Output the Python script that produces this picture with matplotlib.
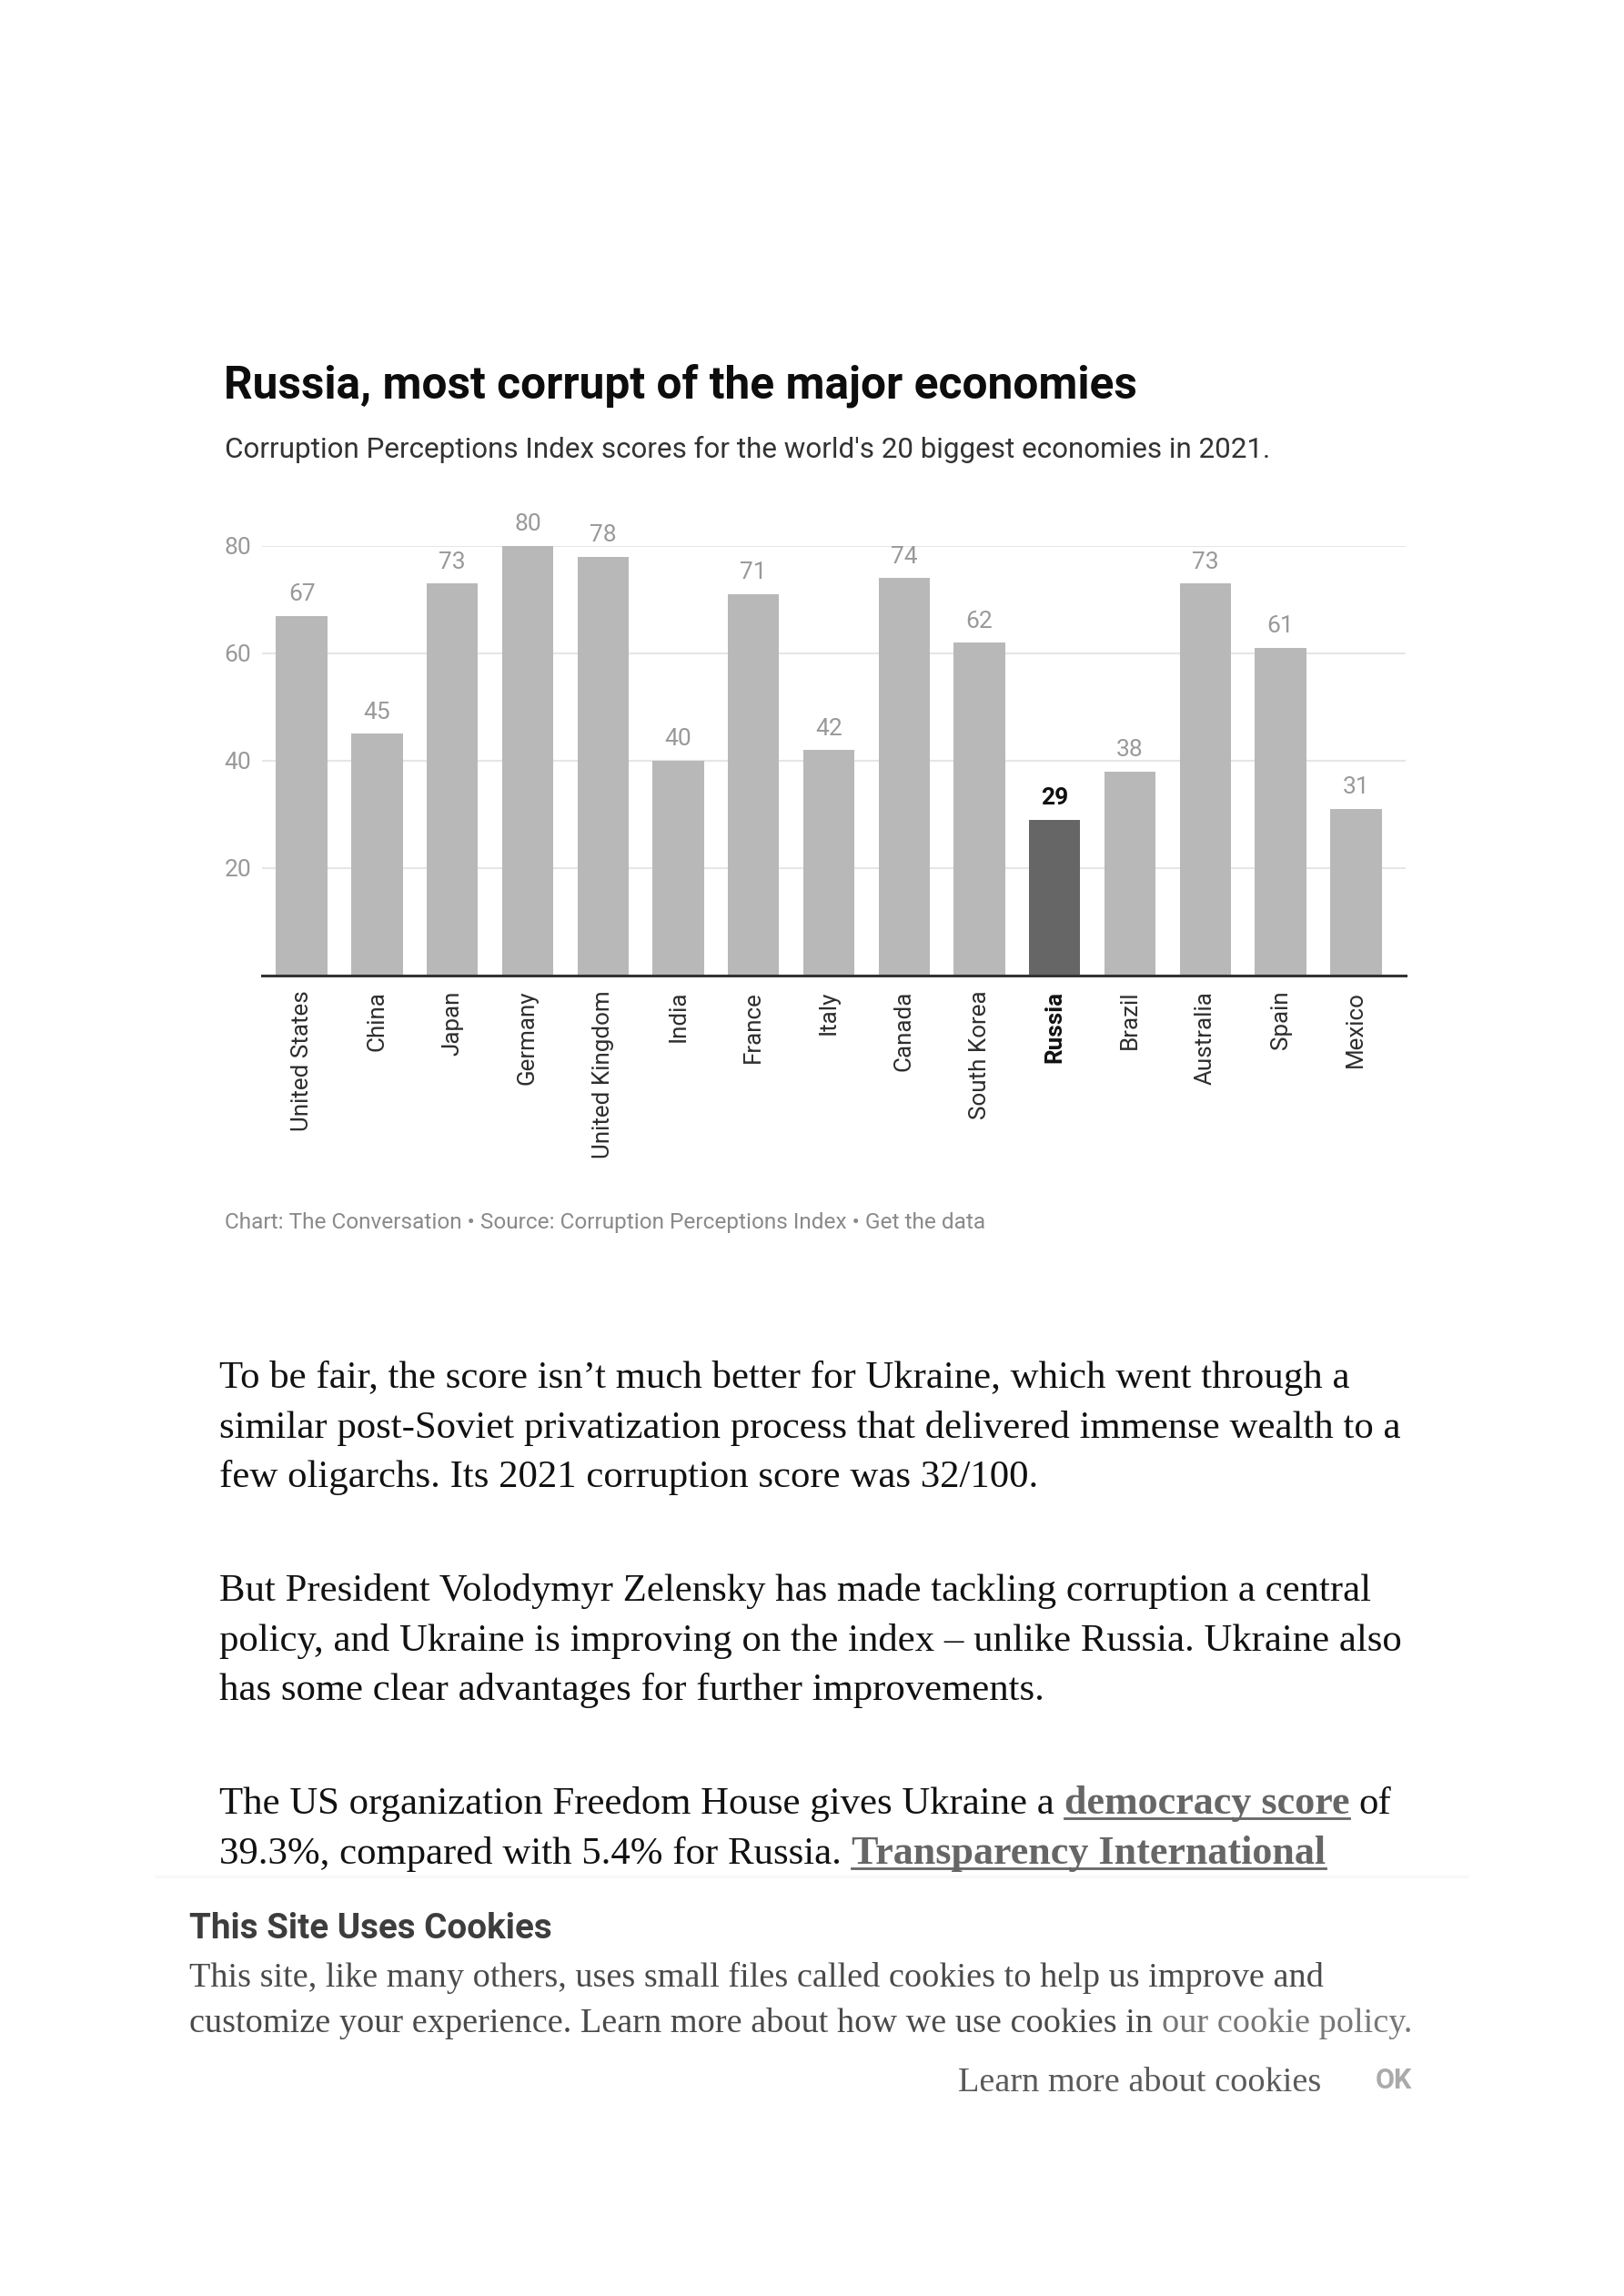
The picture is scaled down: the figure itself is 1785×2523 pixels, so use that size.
import matplotlib
matplotlib.use("Agg")
import matplotlib.pyplot as plt
from matplotlib.lines import Line2D
from matplotlib.patches import Rectangle

W, H = 1785, 2523
DPI = 100

# data
countries = ["United States", "China", "Japan", "Germany", "United Kingdom", "India",
             "France", "Italy", "Canada", "South Korea", "Russia", "Brazil",
             "Australia", "Spain", "Mexico"]
scores = [67, 45, 73, 80, 78, 40, 71, 42, 74, 62, 29, 38, 73, 61, 31]
highlight = "Russia"
y_ticks = [20, 40, 60, 80]

title = "Russia, most corrupt of the major economies"
subtitle = "Corruption Perceptions Index scores for the world's 20 biggest economies in 2021."
footer = "Chart: The Conversation \u2022 Source: Corruption Perceptions Index \u2022 Get the data"

# article text, one entry per rendered line; (text, is_link)
paragraphs = [
    [[("To be fair, the score isn\u2019t much better for Ukraine, which went through a", False)],
     [("similar post-Soviet privatization process that delivered immense wealth to a", False)],
     [("few oligarchs. Its 2021 corruption score was 32/100.", False)]],
    [[("But President Volodymyr Zelensky has made tackling corruption a central", False)],
     [("policy, and Ukraine is improving on the index \u2013 unlike Russia. Ukraine also", False)],
     [("has some clear advantages for further improvements.", False)]],
    [[("The US organization Freedom House gives Ukraine a ", False), ("democracy score", True), (" of", False)],
     [("39.3%, compared with 5.4% for Russia. ", False), ("Transparency International", True)]],
]
para_baselines = [[1525, 1580, 1634], [1759, 1814, 1868], [1993, 2048]]

cookie_head = "This Site Uses Cookies"
cookie_lines = [
    [("This site, like many others, uses small files called cookies to help us improve and", "#4a4a4a")],
    [("customize your experience. Learn more about how we use cookies in ", "#4a4a4a"),
     ("our cookie policy.", "#777777")],
]

SANS = "Roboto"
SERIF = "Liberation Serif"


def fx(x):
    return x / W


def fy(y):
    return 1 - y / H


fig = plt.figure(figsize=(W / DPI, H / DPI), dpi=DPI)
fig.patch.set_facecolor("white")
renderer = fig.canvas.get_renderer()


def width_of(t):
    return t.get_window_extent(renderer).width


def space_width(**kw):
    a = fig.text(0, 0, "x x", **kw)
    b = fig.text(0, 0, "xx", **kw)
    w = width_of(a) - width_of(b)
    a.remove()
    b.remove()
    return w


# headings
fig.text(fx(246), fy(437), title, family=SANS, weight="bold", fontsize=35.7,
         color="#0d0d0d", va="baseline")
fig.text(fx(247), fy(503), subtitle, family=SANS, fontsize=22.6, color="#333333", va="baseline")

# bar chart
ax = fig.add_axes([fx(288), fy(1072), (1545 - 288) / W, (1072 - 600) / H])
colors = ["#666666" if c == highlight else "#b8b8b8" for c in countries]
x = list(range(len(countries)))
ax.bar(x, scores, width=0.68, color=colors, zorder=2)
ax.set_xlim(-0.527, 14.66)
ax.set_ylim(0, 80)
ax.set_yticks(y_ticks)
ax.set_yticklabels([str(v) for v in y_ticks], family=SANS, fontsize=19, color="#999999")
ax.grid(axis="y", color="#e6e6e6", lw=1.5, zorder=0)
ax.axhline(0, color="#333333", lw=2.2, zorder=3, clip_on=False)
for s in ax.spines.values():
    s.set_visible(False)
ax.tick_params(axis="y", length=0, pad=8.5)
ax.tick_params(axis="x", length=0, pad=12)
ax.set_xticks(x)
ax.set_xticklabels(countries, rotation=90, family=SANS, fontsize=18.7, color="#2e2e2e")
for lbl in ax.get_xticklabels():
    if lbl.get_text() == highlight:
        lbl.set_fontweight("bold")
        lbl.set_color("#111111")

for i, (c, v) in enumerate(zip(countries, scores)):
    hl = c == highlight
    ax.annotate(str(v), (i, v), xytext=(0, 12), textcoords="offset points",
                ha="center", va="baseline", family=SANS, fontsize=19,
                weight="bold" if hl else "normal",
                color="#111111" if hl else "#999999", annotation_clip=False)

fig.text(fx(247), fy(1350), footer, family=SANS, fontsize=17.6, color="#8a8a8a", va="baseline")

# article body: fit serif size to the measured width of the first line
probe = fig.text(0, 0, paragraphs[0][0][0][0], family=SERIF, fontsize=30)
body_size = 30 * 1241 / width_of(probe)
probe.remove()

body_x = 241
for para, bases in zip(paragraphs, para_baselines):
    for line, base in zip(para, bases):
        cx = body_x
        for text, link in line:
            kw = dict(family=SERIF, fontsize=body_size, va="baseline")
            if link:
                kw.update(weight="bold", color="#666666", fontsize=body_size * 1.03)
            else:
                kw.update(color="#111111")
            lead = len(text) - len(text.lstrip(" "))
            trail = len(text) - len(text.rstrip(" "))
            sw = space_width(**kw)
            cx += lead * sw
            core = text.strip(" ")
            t = fig.text(fx(cx), fy(base), core, **kw)
            w = width_of(t)
            if link:
                fig.add_artist(Line2D([fx(cx), fx(cx + w)], [fy(base + 5), fy(base + 5)],
                                      transform=fig.transFigure, color="#666666", lw=2))
            cx += w + trail * sw

# cookie banner with a soft top shadow
for k in range(5):
    fig.add_artist(Rectangle((fx(170), fy(2064 - k)), (1615 - 170) / W, 1 / H,
                             transform=fig.transFigure, color="#000000",
                             alpha=0.006 * (5 - k), lw=0))
fig.add_artist(Rectangle((0, 0), 1, fy(2064), transform=fig.transFigure,
                         color="white", lw=0, zorder=5))

fig.text(fx(208), fy(2130), cookie_head, family=SANS, weight="bold", fontsize=27.8,
         color="#3d3d3d", va="baseline", zorder=6)

probe = fig.text(0, 0, cookie_lines[0][0][0], family=SERIF, fontsize=26)
cookie_size = 26 * 1244 / width_of(probe)
probe.remove()

for line, base in zip(cookie_lines, [2183, 2233]):
    cx = 208
    for text, col in line:
        kw = dict(family=SERIF, fontsize=cookie_size, va="baseline", color=col, zorder=6)
        core = text.rstrip(" ")
        t = fig.text(fx(cx), fy(base), core, **kw)
        cx += width_of(t) + (len(text) - len(core)) * space_width(family=SERIF, fontsize=cookie_size)

fig.text(fx(1452), fy(2298), "Learn more about cookies", family=SERIF, fontsize=cookie_size,
         color="#5a5a5a", ha="right", va="baseline", zorder=6)
fig.text(fx(1512), fy(2295), "OK", family=SANS, weight="bold", fontsize=22,
         color="#aaaaaa", va="baseline", zorder=6)

fig.savefig("out.png", dpi=DPI, facecolor="white")
